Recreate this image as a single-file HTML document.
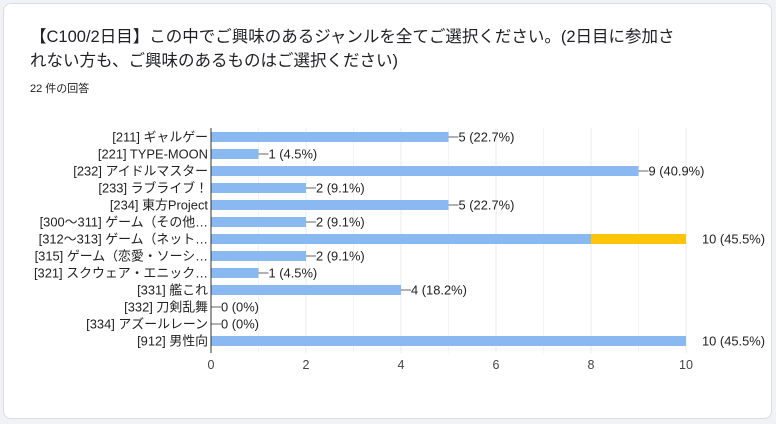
<!DOCTYPE html>
<html><head><meta charset="utf-8">
<style>
body{margin:0;background:#f0f2f5;width:776px;height:424px;overflow:hidden;font-family:"Liberation Sans","Noto Sans CJK JP",sans-serif}
#card{position:absolute;left:3px;top:3px;width:767px;height:414px;background:#fff;border:1px solid #dadce0;border-radius:8px}
#title{position:absolute;left:30px;top:25px;width:650px;font-size:16.5px;line-height:24px;color:#202124}
#count{position:absolute;left:30px;top:80px;font-size:11px;color:#202124}
svg{position:absolute;left:0;top:0}
</style></head><body>
<div id="card"></div>
<div id="title">【C100/2日目】この中でご興味のあるジャンルを全てご選択ください。(2日目に参加されない方も、ご興味のあるものはご選択ください)</div>
<div id="count">22 件の回答</div>
<svg id="chart" width="776" height="424"></svg>
<script>
const categories=["[211] ギャルゲー","[221] TYPE-MOON","[232] アイドルマスター","[233] ラブライブ！","[234] 東方Project","[300～311] ゲーム（その他…","[312～313] ゲーム（ネット…","[315] ゲーム（恋愛・ソーシ…","[321] スクウェア・エニック…","[331] 艦これ","[332] 刀剣乱舞","[334] アズールレーン","[912] 男性向"];
const values=[5,1,9,2,5,2,10,2,1,4,0,0,10];
const highlight=[0,0,0,0,0,0,2,0,0,0,0,0,0];
const percents=["22.7%","4.5%","40.9%","9.1%","22.7%","9.1%","45.5%","9.1%","4.5%","18.2%","0%","0%","45.5%"];
const ticks=[0,2,4,6,8,10];
const NS="http://www.w3.org/2000/svg";
const svg=document.getElementById('chart');
const x0=211,x1=686,maxV=10,top0=128,rowH=17,barH=10;
const X=v=>x0+(x1-x0)*v/maxV;
const Y=i=>top0+i*rowH;
function mk(t,a){const e=document.createElementNS(NS,t);for(const k in a)e.setAttribute(k,a[k]);svg.appendChild(e);return e;}
const plotBottom=Y(categories.length)+4;
for(let v=1;v<=maxV;v++){const g=mk('line',{x1:X(v),x2:X(v),y1:top0,y2:plotBottom,stroke:v%2?'#f3f3f3':'#ebebeb'});

}
ticks.forEach(t=>{const e=mk('text',{x:X(t),y:plotBottom+16,'text-anchor':'middle','font-size':12.5,fill:'#444'});e.textContent=t;

});
categories.forEach((c,i)=>{
const y=Y(i)+4;
const l=mk('text',{x:x0-3,y:y+9.5,'text-anchor':'end','font-size':12.9,fill:'#222'});l.textContent=c;


const v=values[i],h=highlight[i];
if(v>0){const b=mk('rect',{x:x0,y:y,width:X(v-h)-x0,height:barH,fill:'#8ab9f1'});

}
if(h>0){const b2=mk('rect',{x:X(v-h),y:y,width:X(v)-X(v-h),height:barH,fill:'#fbc50a'});

}
const ex=X(v);let tx;
if(v>=maxV){tx=ex+16;}else{const ld=mk('line',{x1:ex,x2:ex+10,y1:y+5,y2:y+5,stroke:'#666'});

tx=ex+10;}
const t=mk('text',{x:tx,y:y+9.5,'font-size':12.9,fill:'#222'});t.textContent=v+' ('+percents[i]+')';


});
const ax=mk('line',{x1:x0,x2:x0,y1:top0,y2:plotBottom,stroke:'#333'});


</script>
</body></html>
